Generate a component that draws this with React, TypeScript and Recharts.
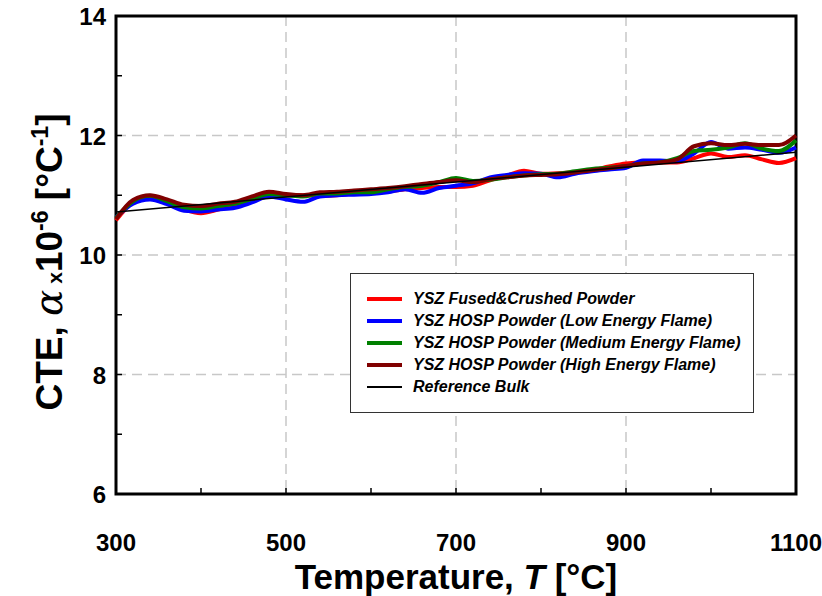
import React from "react";
import { LineChart, Line, XAxis, YAxis, CartesianGrid, ReferenceArea, Legend } from "recharts";

const TEMPS = [300, 320, 340, 360, 380, 400, 420, 440, 460, 480, 500, 520, 540, 560, 580, 600, 620, 640, 660, 680, 700, 720, 740, 760, 780, 800, 820, 840, 860, 880, 900, 920, 940, 960, 980, 1000, 1020, 1040, 1060, 1080, 1100];
const FUSED = [10.58, 10.88, 10.96, 10.88, 10.76, 10.7, 10.76, 10.84, 10.93, 11.0, 11.0, 11.0, 10.99, 11.0, 11.03, 11.05, 11.06, 11.1, 11.12, 11.14, 11.14, 11.16, 11.25, 11.33, 11.41, 11.36, 11.37, 11.39, 11.42, 11.48, 11.53, 11.55, 11.55, 11.55, 11.62, 11.7, 11.64, 11.67, 11.6, 11.54, 11.62];
const HOSP_LOW = [10.63, 10.86, 10.93, 10.85, 10.74, 10.73, 10.76, 10.79, 10.88, 10.98, 10.93, 10.89, 10.98, 11.0, 11.01, 11.02, 11.05, 11.1, 11.04, 11.12, 11.16, 11.2, 11.3, 11.34, 11.37, 11.36, 11.3, 11.36, 11.4, 11.43, 11.46, 11.58, 11.58, 11.57, 11.7, 11.89, 11.78, 11.8, 11.76, 11.71, 11.8];
const HOSP_MED = [10.62, 10.9, 10.99, 10.9, 10.8, 10.78, 10.82, 10.86, 10.94, 11.02, 11.0, 10.98, 11.03, 11.03, 11.05, 11.05, 11.1, 11.14, 11.16, 11.22, 11.29, 11.24, 11.26, 11.3, 11.33, 11.35, 11.36, 11.4, 11.44, 11.46, 11.49, 11.53, 11.55, 11.62, 11.74, 11.76, 11.8, 11.87, 11.78, 11.74, 11.92];
const HOSP_HIGH = [10.6, 10.92, 11.0, 10.93, 10.84, 10.82, 10.86, 10.89, 10.98, 11.06, 11.02, 11.0, 11.05, 11.06, 11.08, 11.1, 11.12, 11.15, 11.19, 11.22, 11.25, 11.22, 11.27, 11.3, 11.33, 11.34, 11.35, 11.38, 11.42, 11.45, 11.49, 11.53, 11.55, 11.6, 11.82, 11.87, 11.84, 11.86, 11.84, 11.84, 12.0];
const REF_T = [300, 1100];
const REF_CTE = [10.72, 11.72];

const X_TICKS = [300, 400, 500, 600, 700, 800, 900, 1000, 1100];
const X_LABELED = [300, 500, 700, 900, 1100];
const Y_TICKS = [6, 7, 8, 9, 10, 11, 12, 13, 14];

const SERIES = [
  { key: "fused", name: "YSZ Fused&Crushed Powder", color: "#ff0000", width: 4 },
  { key: "low", name: "YSZ HOSP Powder (Low Energy Flame)", color: "#0000ff", width: 4 },
  { key: "med", name: "YSZ HOSP Powder (Medium Energy Flame)", color: "#008000", width: 4 },
  { key: "high", name: "YSZ HOSP Powder (High Energy Flame)", color: "#800000", width: 4 },
  { key: "ref", name: "Reference Bulk", color: "#000000", width: 1.5 },
];

const data = TEMPS.map((t, i) => ({ t, fused: FUSED[i], low: HOSP_LOW[i], med: HOSP_MED[i], high: HOSP_HIGH[i] }));
const refData = REF_T.map((t, i) => ({ t, ref: REF_CTE[i] }));

const FONT = "'Liberation Sans', Arial, sans-serif";

const XTick = (props: any) => {
  const { x, y, payload } = props;
  const v = payload.value;
  return (
    <g>
      {v !== 300 && v !== 1100 && <line x1={x} x2={x} y1={y} y2={y - 6} stroke="#000" strokeWidth={1.5} />}
      {X_LABELED.includes(v) && (
        <text x={x} y={y + 57} textAnchor="middle" fontFamily={FONT} fontWeight="bold" fontSize={24} fill="#000">
          {v}
        </text>
      )}
    </g>
  );
};

const YTick = (props: any) => {
  const { x, y, payload } = props;
  const v = payload.value;
  const major = v % 2 === 0;
  return (
    <g>
      {v !== 6 && v !== 14 && <line x1={x} x2={x + 6} y1={y} y2={y} stroke="#000" strokeWidth={1.5} />}
      {major && (
        <text x={x - 10} y={y + 9} textAnchor="end" fontFamily={FONT} fontWeight="bold" fontSize={24} fill="#000">
          {v}
        </text>
      )}
    </g>
  );
};

const YTitle = (props: any) => {
  const { viewBox } = props;
  const cy = viewBox.y + viewBox.height / 2 + 7;
  const cx = 62;
  return (
    <text transform={`rotate(-90 ${cx} ${cy})`} x={cx} y={cy} textAnchor="middle" fontFamily={FONT} fontWeight="bold" fontSize={37} fill="#000">
      <tspan>CTE, </tspan>
      <tspan fontFamily="'DejaVu Serif', serif" fontStyle="italic" fontWeight="normal" fontSize={39}>α</tspan>
      <tspan fontSize={21}> x</tspan>
      <tspan>10</tspan>
      <tspan fontSize={23} dy={-14}>-6</tspan>
      <tspan dy={14}> [°C</tspan>
      <tspan fontSize={23} dy={-14}>-1</tspan>
      <tspan dy={14}>]</tspan>
    </text>
  );
};

const XTitle = (props: any) => {
  const { viewBox } = props;
  const cx = viewBox.x + viewBox.width / 2;
  return (
    <text x={cx} y={589} textAnchor="middle" fontFamily={FONT} fontWeight="bold" fontSize={35} fill="#000">
      <tspan>Temperature, </tspan>
      <tspan fontStyle="italic">T</tspan>
      <tspan> [°C]</tspan>
    </text>
  );
};

const LegendBox = () => (
  <div
    style={{
      width: 404,
      height: 140,
      boxSizing: "border-box",
      border: "1.5px solid #333",
      background: "#fff",
      padding: "14px 0 0 16px",
      fontFamily: FONT,
    }}
  >
    {SERIES.map((s) => (
      <div key={s.key} style={{ display: "flex", alignItems: "center", height: 22 }}>
        <div style={{ width: 35, height: s.width, background: s.color, marginRight: 11 }} />
        <span style={{ fontSize: 16, fontWeight: "bold", fontStyle: "italic", color: "#000" }}>{s.name}</span>
      </div>
    ))}
  </div>
);

export default function App() {
  return (
    <div style={{ position: "absolute", left: 0, top: 0, background: "#fff" }}>
      <LineChart width={822} height={596} data={data} margin={{ top: 16, right: 26, bottom: 22, left: 56 }}>
        <CartesianGrid
          stroke="#c8c8c8"
          strokeWidth={1.5}
          strokeDasharray="10 6"
          horizontalValues={[8, 10, 12]}
          verticalValues={[500, 700, 900]}
        />
        <XAxis
          dataKey="t"
          type="number"
          domain={[300, 1100]}
          ticks={X_TICKS}
          interval={0}
          height={80}
          axisLine={false}
          tickLine={false}
          tickSize={0}
          tickMargin={0}
          tick={<XTick />}
          label={<XTitle />}
        />
        <YAxis
          type="number"
          domain={[6, 14]}
          ticks={Y_TICKS}
          interval={0}
          width={60}
          axisLine={false}
          tickLine={false}
          tickSize={0}
          tickMargin={0}
          tick={<YTick />}
          label={<YTitle />}
        />
        <ReferenceArea x1={300} x2={1100} y1={6} y2={14} fill="none" stroke="#000" strokeWidth={3} ifOverflow="visible" />
        {SERIES.slice(0, 4).map((s) => (
          <Line
            key={s.key}
            dataKey={s.key}
            name={s.name}
            type="monotone"
            stroke={s.color}
            strokeWidth={s.width}
            dot={false}
            activeDot={false}
            isAnimationActive={false}
          />
        ))}
        <Line
          data={refData}
          dataKey="ref"
          name="Reference Bulk"
          type="linear"
          stroke="#000"
          strokeWidth={1.5}
          dot={false}
          activeDot={false}
          isAnimationActive={false}
        />
        <Legend
          layout="horizontal"
          verticalAlign="middle"
          align="center"
          content={<LegendBox />}
          wrapperStyle={{ left: 350, top: 273, width: 404, height: 140 }}
        />
      </LineChart>
    </div>
  );
}
